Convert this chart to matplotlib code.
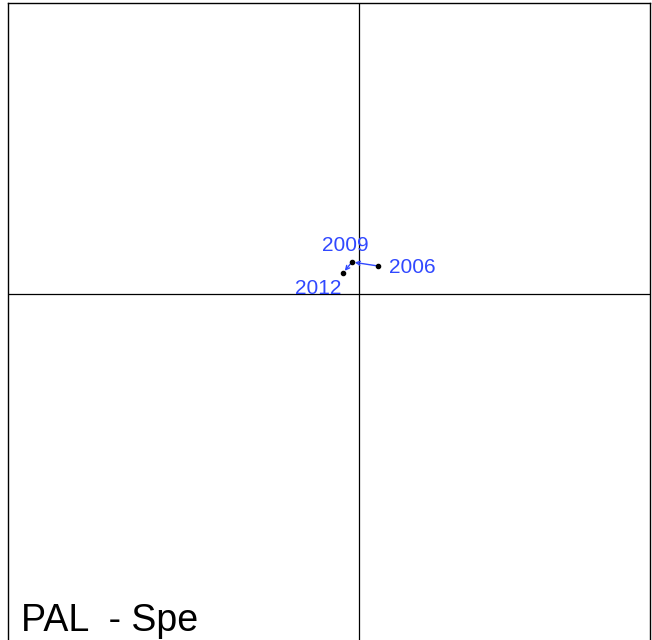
import matplotlib
matplotlib.use("Agg")
import matplotlib.pyplot as plt

plt.rcParams['font.family'] = ['Liberation Sans', 'DejaVu Sans']

years = ["2006", "2009", "2012"]
xs = [0.19, -0.07, -0.16]
ys = [0.28, 0.32, 0.21]
title = "PAL  - Spe"

W, H = 652, 640
fig = plt.figure(figsize=(W/100, H/100), dpi=100)
left, right, top, bottom = 8, 650, 3, 645
ax = fig.add_axes([left/W, 1 - bottom/H, (right-left)/W, (bottom-top)/H])
ax.set_xlim(-3.51, 2.91)
ax.set_ylim(-3.51, 2.91)
ax.set_xticks([]); ax.set_yticks([])
for s in ax.spines.values():
    s.set_linewidth(1.0)
    s.set_color('black')
ax.axvline(0, color='black', lw=0.9)
ax.axhline(0, color='black', lw=0.9)

blue = '#3048ff'
for i in range(len(xs) - 1):
    ax.annotate('', xy=(xs[i+1], ys[i+1]), xytext=(xs[i], ys[i]),
                arrowprops=dict(arrowstyle='->', color=blue, lw=1.0,
                                shrinkA=0, shrinkB=2, mutation_scale=7))
ax.scatter(xs, ys, s=9, color='black', zorder=3)

offsets = {"2006": (0.11, -0.01, 'left', 'center'),
           "2009": (-0.07, 0.07, 'center', 'bottom'),
           "2012": (-0.25, -0.06, 'center', 'top')}
for y_, x, yv in zip(years, xs, ys):
    dx, dy, ha, va = offsets[y_]
    ax.text(x + dx, yv + dy, y_, color=blue, fontsize=15, ha=ha, va=va)

ax.text(-3.51 + 0.13, -3.51 + 0.06, title, fontsize=27,
        ha='left', va='bottom', color='black')

fig.savefig('out.png', dpi=100)
